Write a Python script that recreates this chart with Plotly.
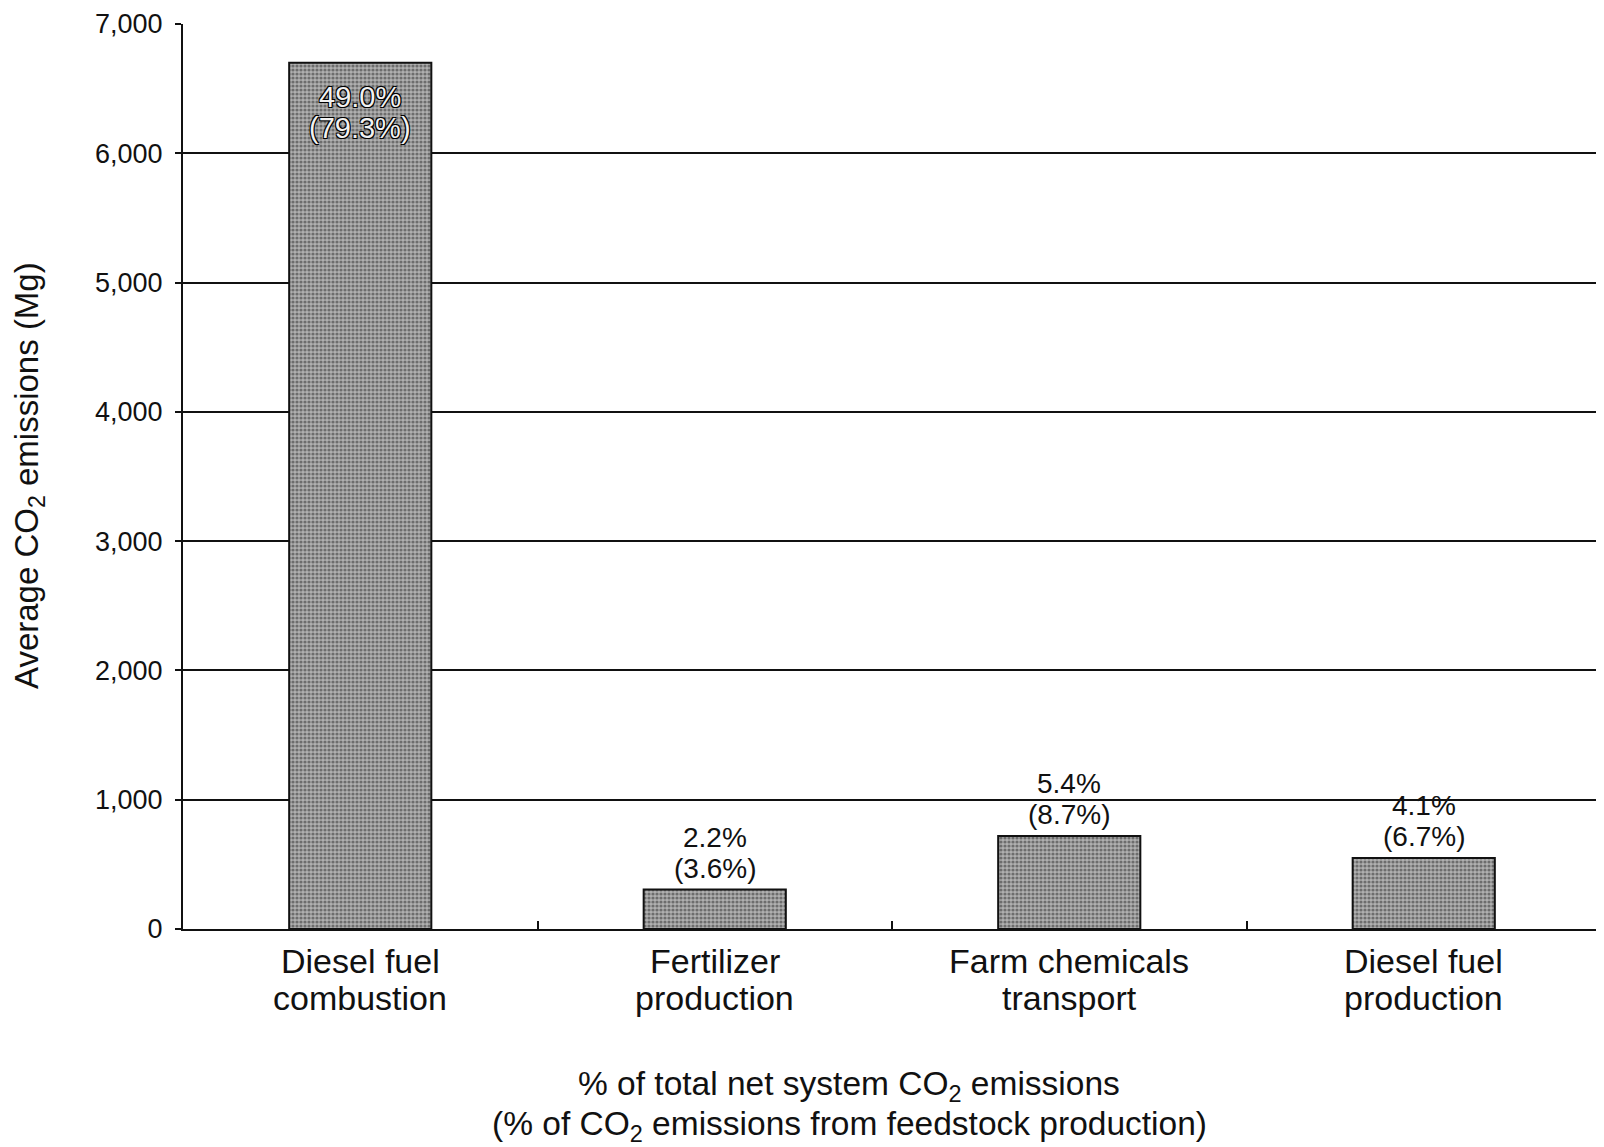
import plotly.graph_objects as go

cat_line1 = ["Diesel fuel", "Fertilizer", "Farm chemicals", "Diesel fuel"]
cat_line2 = ["combustion", "production", "transport", "production"]
emissions = [6700, 305, 720, 550]
pct_total = ["49.0%", "2.2%", "5.4%", "4.1%"]
pct_feedstock = ["(79.3%)", "(3.6%)", "(8.7%)", "(6.7%)"]
y_ticks = [0, 1000, 2000, 3000, 4000, 5000, 6000, 7000]

categories = [f"{a} {b}" for a, b in zip(cat_line1, cat_line2)]

FONT = "Liberation Sans, Arial, sans-serif"
INK = "#111111"
# page has an 8px body margin; figure is drawn in figure coordinates
W, H = 1596, 1139
L, R, T, B = 175, 3, 16, 218
plot_w = W - L - R
plot_h = H - T - B

fig = go.Figure()
fig.add_trace(go.Bar(
    x=categories, y=emissions,
    marker=dict(color="#a0a0a0",
                line=dict(color=INK, width=2),
                pattern=dict(shape=".", fgcolor="#2a2a2a", bgcolor="#b0b0b0",
                             size=4, solidity=0.5, fillmode="overlay")),
    width=0.401,
    hoverinfo="skip",
))

ann = []
outline = "-1px -1px 0 #000, 1px -1px 0 #000, -1px 1px 0 #000, 1px 1px 0 #000"
for i, (cat, v, t1, t2) in enumerate(zip(categories, emissions, pct_total, pct_feedstock)):
    if i == 0:
        shifts = (-34, -65)
        f = dict(family=FONT, size=29, color="#f2f2f2", shadow=outline)
    else:
        shifts = (52, 21)
        f = dict(family=FONT, size=28, color=INK)
    for txt, s in zip((t1, t2), shifts):
        ann.append(dict(x=cat, y=v, xref="x", yref="y", text=txt, showarrow=False,
                        xanchor="center", yanchor="middle", yshift=s, font=f))
    for txt, s in zip((cat_line1[i], cat_line2[i]), (-31.5, -68.5)):
        ann.append(dict(x=cat, y=0, xref="x", yref="paper", text=txt, showarrow=False,
                        xanchor="center", yanchor="middle", yshift=s,
                        font=dict(family=FONT, size=34, color=INK)))

ann.append(dict(text="Average CO<sub>2</sub> emissions (Mg)", textangle=-90,
                xref="paper", yref="paper",
                x=(21 - L) / plot_w, y=(H - B - 468) / plot_h,
                xanchor="center", yanchor="middle", showarrow=False,
                font=dict(family=FONT, size=33, color=INK)))
for txt, yc in (("% of total net system CO<sub>2</sub> emissions", 1078),
                ("(% of CO<sub>2</sub> emissions from feedstock production)", 1118)):
    ann.append(dict(text=txt, xref="paper", yref="paper",
                    x=(841 - L) / plot_w, y=-(yc - (H - B)) / plot_h,
                    xanchor="center", yanchor="middle", showarrow=False,
                    font=dict(family=FONT, size=33.5, color=INK)))

fig.update_layout(
    width=W, height=H,
    margin=dict(l=L, r=R, t=T, b=B, pad=0, autoexpand=False),
    paper_bgcolor="white", plot_bgcolor="white",
    showlegend=False,
    font=dict(family=FONT, color=INK),
    xaxis=dict(
        type="category", showline=True, linecolor=INK, linewidth=2,
        ticks="inside", tickson="boundaries", ticklen=8, tickcolor=INK,
        tickwidth=1.5, showticklabels=False,
        showgrid=False, zeroline=False,
    ),
    yaxis=dict(
        range=[0, 7000], tickvals=y_ticks, tickformat=",d",
        showline=True, linecolor=INK, linewidth=2,
        ticks="outside", ticklen=6, tickcolor=INK, tickwidth=1.5,
        tickfont=dict(family=FONT, size=27, color=INK),
        ticklabeloverflow="allow",
        showgrid=True, gridcolor=INK, gridwidth=2,
        zeroline=False, ticklabelstandoff=7,
    ),
    annotations=ann,
)

fig.write_html("out.html")
